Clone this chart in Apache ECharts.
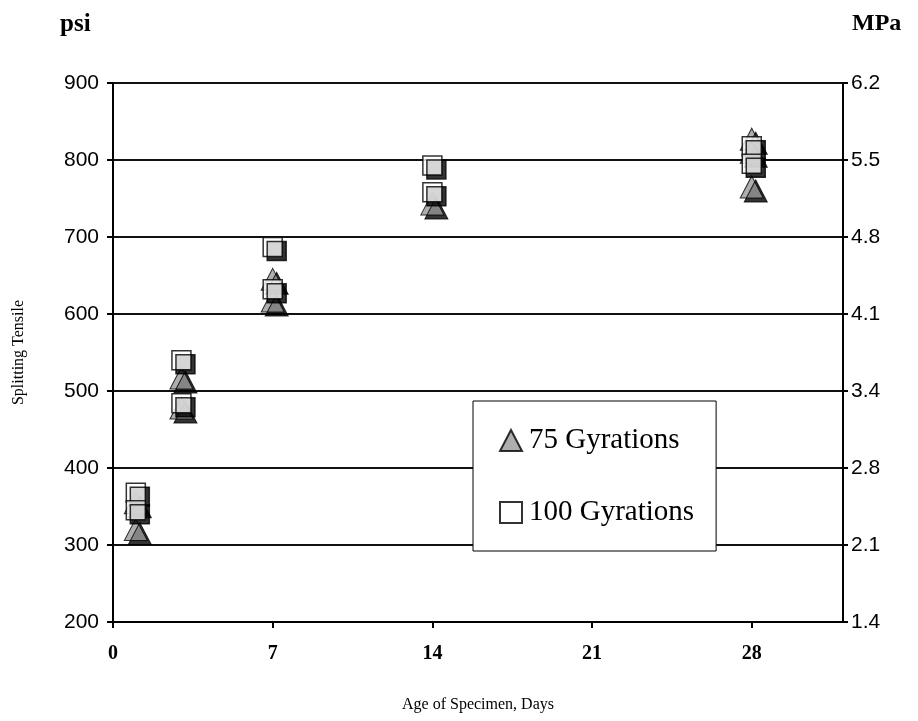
<!DOCTYPE html>
<html>
<head>
<meta charset="utf-8">
<script src="https://cdn.jsdelivr.net/npm/echarts@6/dist/echarts.min.js"></script>
<style>
html, body { margin: 0; padding: 0; background: #fff; }
#chart { width: 918px; height: 721px; }
</style>
</head>
<body>
<div id="chart"></div>
<script>
// ages (days) and splitting tensile strength (psi)
var gyr75Days = [1, 1, 3, 3, 7, 7, 14, 28, 28, 28];
var gyr75Psi = [355, 320, 517, 478, 645, 617, 743, 827, 810, 765];
var gyr100Days = [1, 1, 3, 3, 7, 7, 14, 14, 28, 28];
var gyr100Psi = [368, 345, 540, 484, 687, 632, 793, 758, 818, 795];

var dayTicks = [0, 7, 14, 21, 28];
var psiMin = 200, psiMax = 900, psiStep = 100;
var psiToMPa = 0.006895;

function pairs(xs, ys) {
    var out = [];
    for (var i = 0; i < xs.length; i++) out.push([xs[i], ys[i]]);
    return out;
}

var serif = '"Liberation Serif", "Times New Roman", serif';
var sans = '"Liberation Sans", Arial, sans-serif';

var shadow = { shadowColor: '#000', shadowBlur: 0, shadowOffsetX: 4, shadowOffsetY: 4 };

var option = {
    backgroundColor: '#fff',
    animation: false,
    grid: { left: 113, right: 75, top: 83, bottom: 99 },
    graphic: [
        { type: 'text', left: 60, top: 12, style: { text: 'psi', font: 'bold 25px ' + serif, fill: '#000' } },
        { type: 'text', left: 852, top: 12, style: { text: 'MPa', font: 'bold 24px ' + serif, fill: '#000' } }
    ],
    legend: {
        orient: 'vertical',
        left: 473,
        top: 401,
        padding: [25, 22, 24, 26],
        itemGap: 43,
        itemWidth: 22,
        itemHeight: 21,
        backgroundColor: '#fff',
        borderColor: '#000',
        borderWidth: 1,
        borderRadius: 0,
        textStyle: { fontFamily: serif, fontSize: 29, color: '#000', padding: [0, 0, 0, 2] },
        itemStyle: { shadowColor: 'transparent', shadowOffsetX: 0, shadowOffsetY: 0 },
        data: ['75 Gyrations', '100 Gyrations']
    },
    xAxis: {
        type: 'value',
        min: 0,
        max: 32,
        interval: 7,
        name: 'Age of Specimen, Days',
        nameLocation: 'middle',
        nameGap: 75,
        nameTextStyle: { fontFamily: serif, fontSize: 16, color: '#000' },
        axisLine: { lineStyle: { color: '#000', width: 2 } },
        axisTick: { length: 6, lineStyle: { color: '#000', width: 2 } },
        axisLabel: {
            margin: 22,
            fontFamily: serif,
            fontWeight: 'bold',
            fontSize: 20,
            color: '#000',
            showMaxLabel: false,
            formatter: function (v) { return dayTicks.indexOf(v) >= 0 ? String(v) : ''; }
        },
        splitLine: { show: false }
    },
    yAxis: [
        {
            type: 'value',
            min: psiMin,
            max: psiMax,
            interval: psiStep,
            name: 'Splitting Tensile',
            nameLocation: 'middle',
            nameRotate: 90,
            nameGap: 86,
            nameTextStyle: { fontFamily: serif, fontSize: 16, color: '#000' },
            axisLine: { show: true, lineStyle: { color: '#000', width: 2 } },
            axisTick: { show: true, length: 6, lineStyle: { color: '#000', width: 2 } },
            axisLabel: { margin: 14, fontFamily: sans, fontSize: 21, color: '#000' },
            splitLine: { show: true, lineStyle: { color: '#111', width: 2 } }
        },
        {
            type: 'value',
            min: psiMin,
            max: psiMax,
            interval: psiStep,
            position: 'right',
            axisLine: { show: true, lineStyle: { color: '#000', width: 2 } },
            axisTick: { show: true, length: 5, lineStyle: { color: '#000', width: 2 } },
            axisLabel: {
                margin: 8,
                fontFamily: sans,
                fontSize: 21,
                color: '#000',
                formatter: function (v) { return (v * psiToMPa).toFixed(1); }
            },
            splitLine: { show: false }
        }
    ],
    series: [
        {
            name: '75 Gyrations',
            type: 'scatter',
            symbol: 'triangle',
            symbolSize: [23, 22],
            itemStyle: Object.assign({ color: '#9a9a9a', borderColor: '#000', borderWidth: 1 }, shadow),
            data: pairs(gyr75Days, gyr75Psi)
        },
        {
            name: '100 Gyrations',
            type: 'scatter',
            symbol: 'rect',
            symbolSize: [19, 19],
            itemStyle: Object.assign({ color: '#fff', borderColor: '#000', borderWidth: 1.5 }, shadow),
            data: pairs(gyr100Days, gyr100Psi)
        }
    ]
};

var myChart = echarts.init(document.getElementById('chart'));
myChart.setOption(option);
</script>
</body>
</html>
